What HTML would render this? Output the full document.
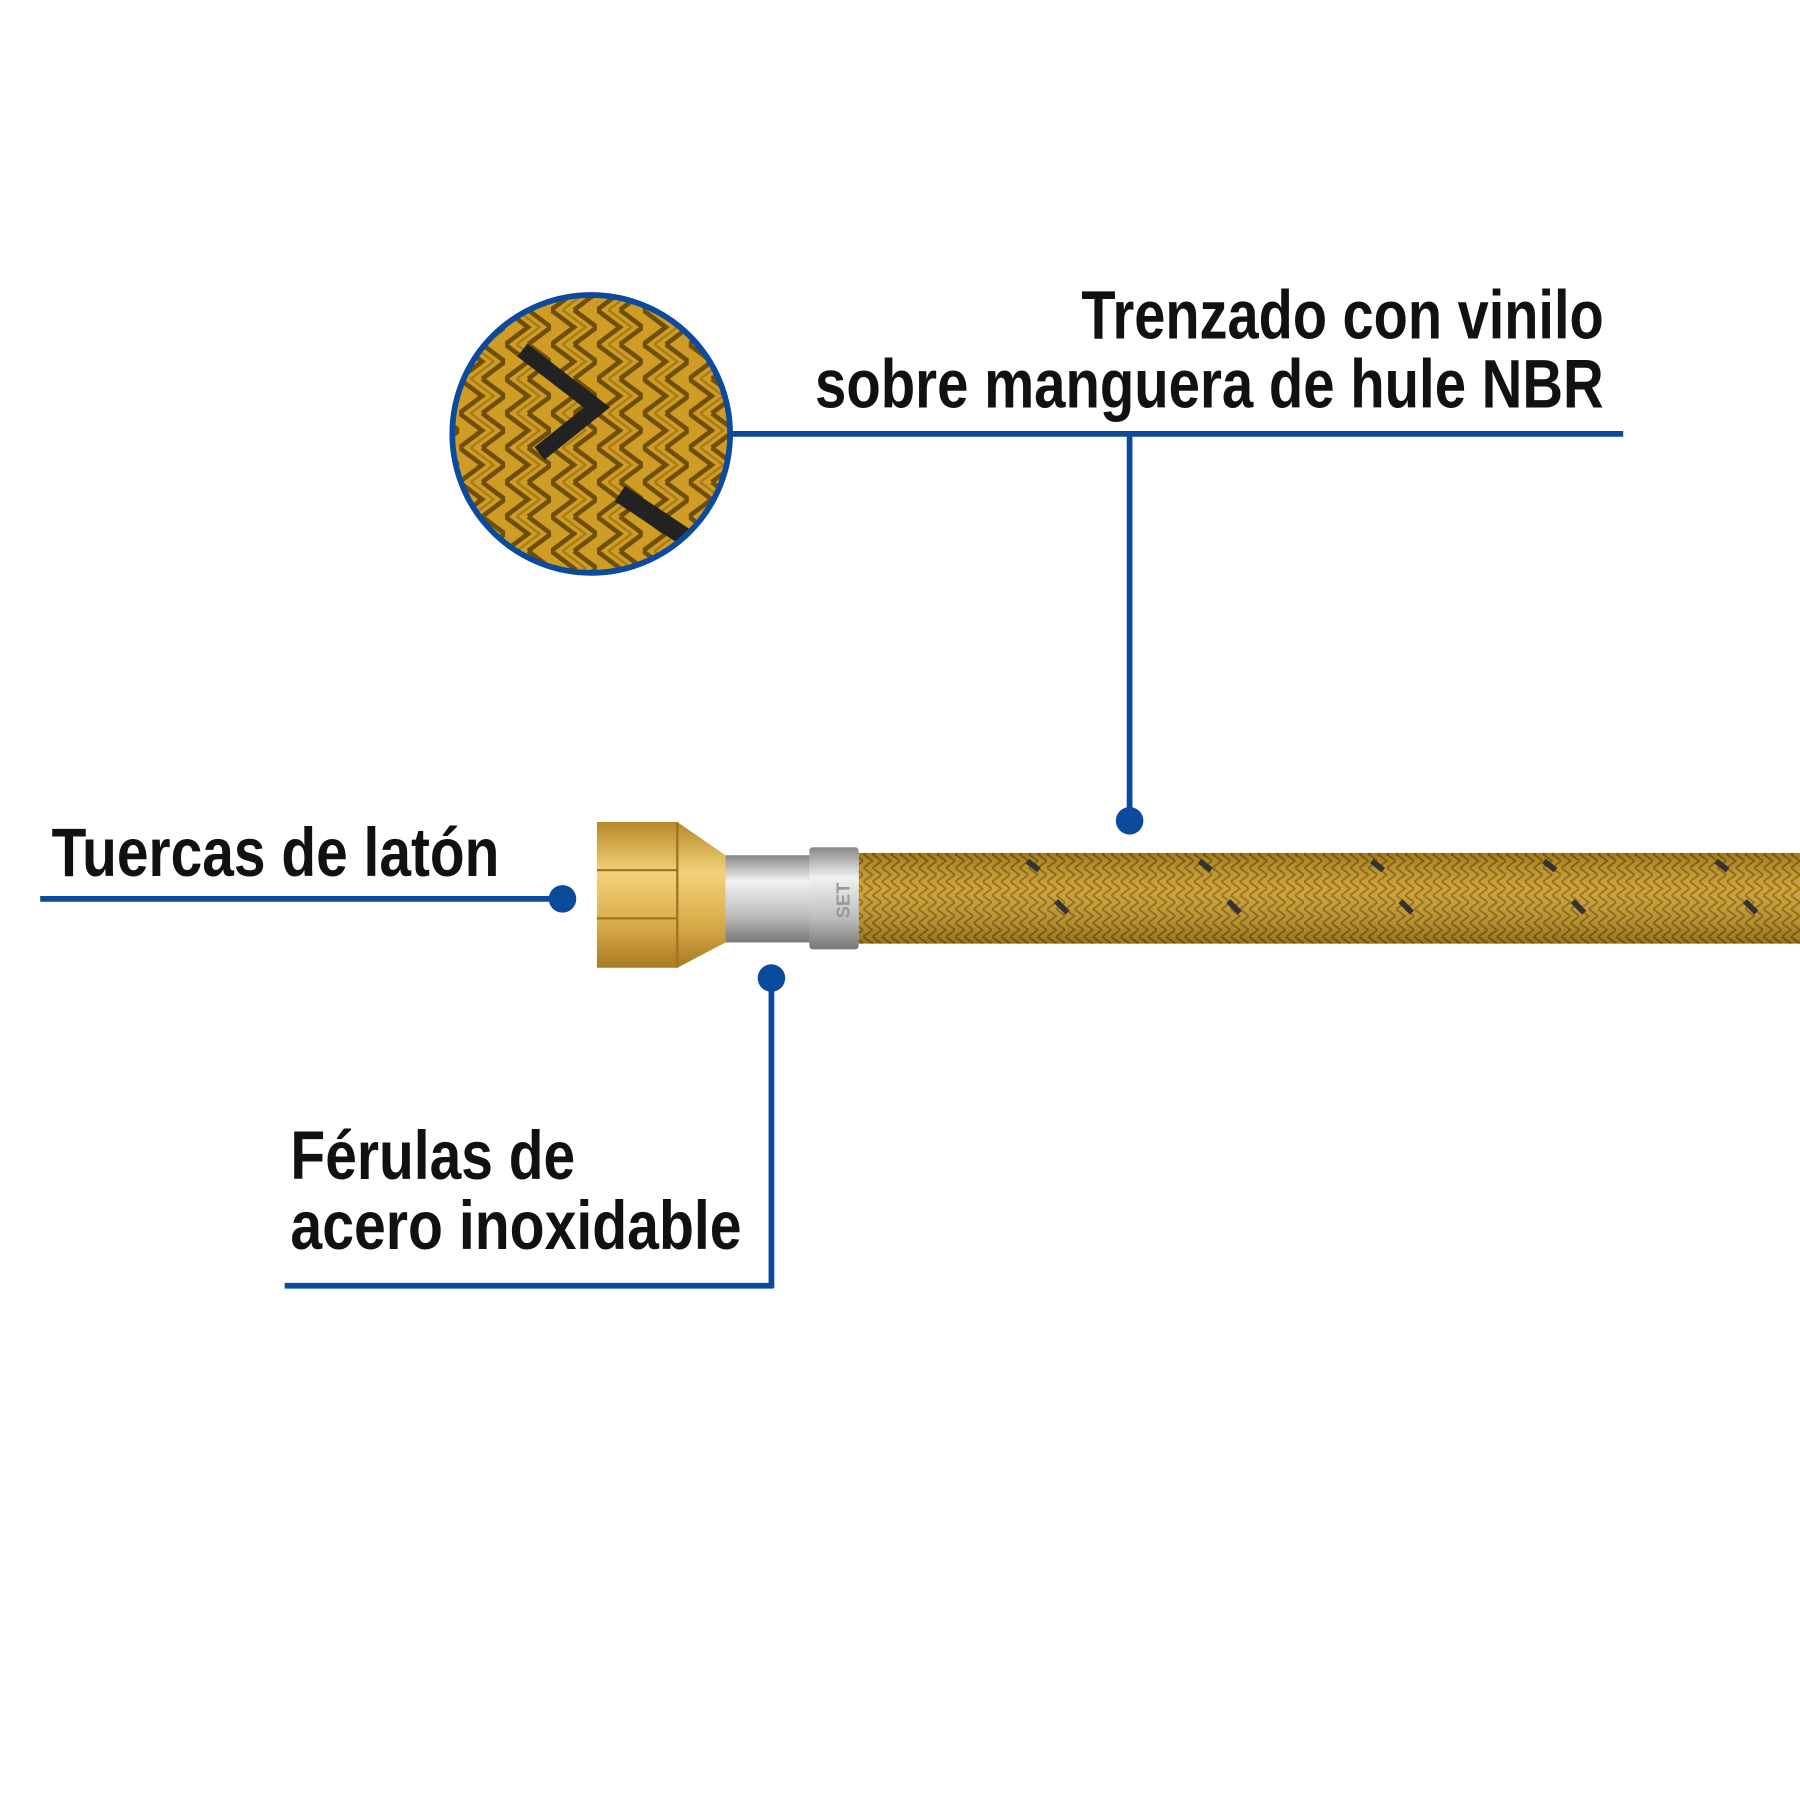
<!DOCTYPE html>
<html><head><meta charset="utf-8"><style>
html,body{margin:0;padding:0;background:#fff;width:1800px;height:1800px;overflow:hidden}
svg{display:block}
text{font-family:"Liberation Sans Narrow","Liberation Sans",sans-serif;font-weight:bold;fill:#111}
</style></head><body>
<svg width="1800" height="1800" viewBox="0 0 1568 1568" xmlns="http://www.w3.org/2000/svg">
<defs>
<pattern id="braid" width="16" height="12" patternUnits="userSpaceOnUse">
<rect width="16" height="12" fill="#c99a22"/>
<path d="M0 0 L8 6 L0 12 M8 0 L16 6 L8 12" stroke="#8a6410" stroke-width="1.6" fill="none"/>
</pattern>
<pattern id="braid2" width="40" height="30" patternUnits="userSpaceOnUse">
<rect width="40" height="30" fill="#cf9d26"/>
<path d="M0 0 L20 15 L0 30 M20 0 L40 15 L20 30" stroke="#6e4e08" stroke-width="4" fill="none"/>
<path d="M10 0 L30 15 L10 30" stroke="#a77a14" stroke-width="2" fill="none"/>
</pattern>
<clipPath id="cc"><circle cx="515" cy="378" r="120"/></clipPath>
<linearGradient id="brass" x1="0" y1="0" x2="0" y2="1">
<stop offset="0" stop-color="#b8892a"/><stop offset="0.35" stop-color="#f2d27a"/><stop offset="0.7" stop-color="#d9ac4a"/><stop offset="1" stop-color="#a87a22"/></linearGradient>
<linearGradient id="steel" x1="0" y1="0" x2="0" y2="1">
<stop offset="0" stop-color="#888"/><stop offset="0.3" stop-color="#f2f2f2"/><stop offset="0.7" stop-color="#bbb"/><stop offset="1" stop-color="#777"/></linearGradient>
<linearGradient id="hoseShade" x1="0" y1="0" x2="0" y2="1">
<stop offset="0" stop-color="#000" stop-opacity="0.2"/><stop offset="0.4" stop-color="#fff" stop-opacity="0.1"/><stop offset="1" stop-color="#000" stop-opacity="0.25"/></linearGradient>
</defs>

<!-- zoom circle -->
<g clip-path="url(#cc)">
<rect x="390" y="250" width="260" height="260" fill="url(#braid2)"/>
<path d="M455 305 L520 355 L470 395" stroke="#222" stroke-width="14" fill="none"/>
<path d="M540 430 L600 470" stroke="#222" stroke-width="16" fill="none"/>
</g>
<circle cx="515" cy="378" r="121" fill="none" stroke="#0b4a9c" stroke-width="5"/>

<!-- top connector -->
<line x1="637" y1="378" x2="1414" y2="378" stroke="#0b4a9c" stroke-width="5"/>
<line x1="984" y1="378" x2="984" y2="715" stroke="#0b4a9c" stroke-width="5"/>
<circle cx="984" cy="715" r="12" fill="#0b4a9c"/>
<text x="1397" y="295" font-size="60" text-anchor="end" textLength="455" lengthAdjust="spacingAndGlyphs">Trenzado con vinilo</text>
<text x="1397" y="355" font-size="60" text-anchor="end" textLength="687" lengthAdjust="spacingAndGlyphs">sobre manguera de hule NBR</text>

<!-- hose -->
<rect x="748" y="743" width="820" height="79" fill="url(#braid)"/>
<rect x="748" y="743" width="820" height="79" fill="url(#hoseShade)"/>
<g stroke="#333" stroke-width="5">
<line x1="895" y1="750" x2="905" y2="758"/><line x1="920" y1="785" x2="930" y2="795"/>
<line x1="1045" y1="750" x2="1055" y2="758"/><line x1="1070" y1="785" x2="1080" y2="795"/>
<line x1="1195" y1="750" x2="1205" y2="758"/><line x1="1220" y1="785" x2="1230" y2="795"/>
<line x1="1345" y1="750" x2="1355" y2="758"/><line x1="1370" y1="785" x2="1380" y2="795"/>
<line x1="1495" y1="750" x2="1505" y2="758"/><line x1="1520" y1="785" x2="1530" y2="795"/>
</g>
<!-- ferrule -->
<rect x="632" y="745" width="75" height="76" fill="url(#steel)"/>
<rect x="705" y="738" width="43" height="89" rx="3" fill="url(#steel)"/>
<text x="0" y="0" font-size="16" fill="#888" transform="translate(740,800) rotate(-90)" style="fill:#999">SET</text>
<!-- nut -->
<path d="M520 716 L590 716 L632 745 L632 821 L590 843 L520 843 Z" fill="url(#brass)"/>
<line x1="520" y1="758" x2="590" y2="758" stroke="#a07420" stroke-width="2"/>
<line x1="520" y1="800" x2="590" y2="800" stroke="#a07420" stroke-width="2"/>
<line x1="590" y1="716" x2="590" y2="843" stroke="#a07420" stroke-width="2"/>

<!-- left connector -->
<line x1="35" y1="783" x2="490" y2="783" stroke="#0b4a9c" stroke-width="5"/>
<circle cx="490" cy="783" r="12" fill="#0b4a9c"/>
<text x="45" y="763" font-size="60" textLength="390" lengthAdjust="spacingAndGlyphs">Tuercas de latón</text>

<!-- bottom connector -->
<circle cx="672" cy="852" r="12" fill="#0b4a9c"/>
<line x1="672" y1="852" x2="672" y2="1122" stroke="#0b4a9c" stroke-width="5"/>
<line x1="248" y1="1120" x2="674" y2="1120" stroke="#0b4a9c" stroke-width="5"/>
<text x="253" y="1027" font-size="60" textLength="248" lengthAdjust="spacingAndGlyphs">Férulas de</text>
<text x="253" y="1088" font-size="60" textLength="393" lengthAdjust="spacingAndGlyphs">acero inoxidable</text>
</svg>
</body></html>
